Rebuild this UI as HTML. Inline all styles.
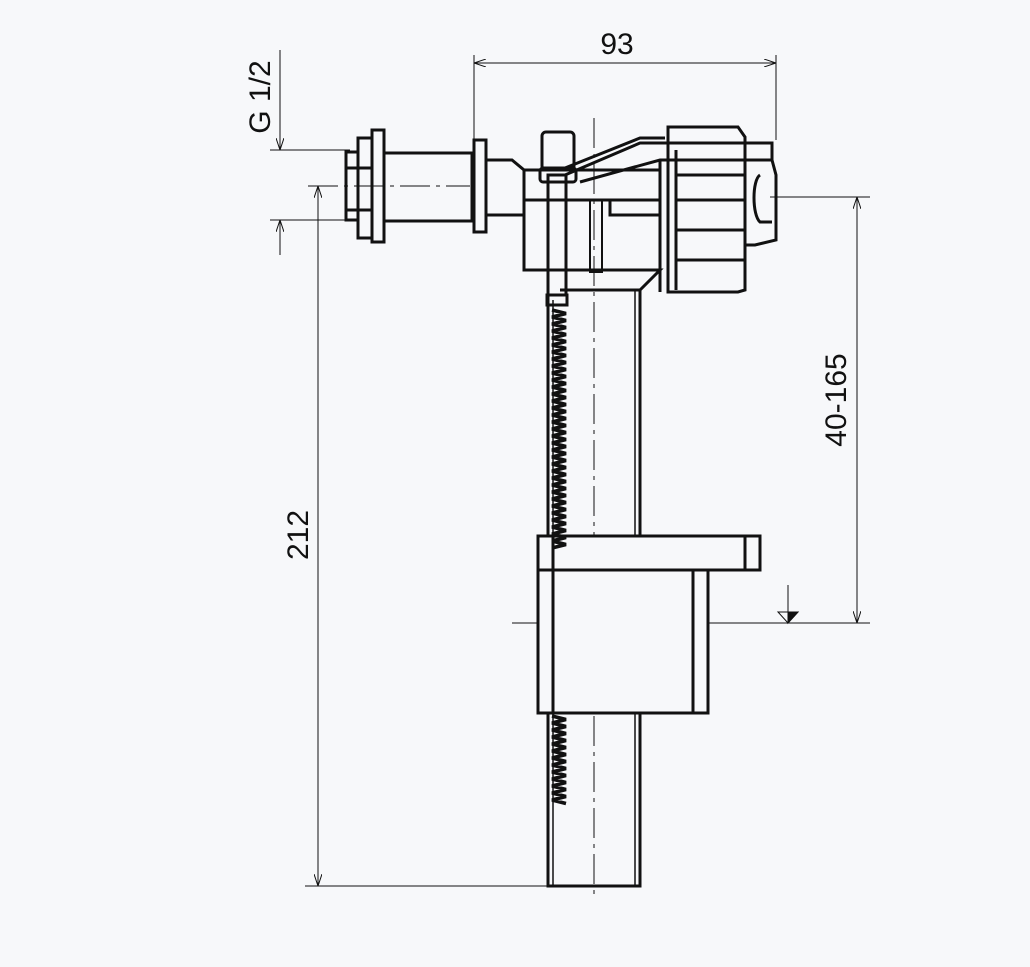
<!DOCTYPE html>
<html><head><style>html,body{margin:0;padding:0;background:#f7f8fa}svg{display:block}</style></head>
<body>
<svg width="1030" height="967" viewBox="0 0 1030 967" xmlns="http://www.w3.org/2000/svg">
<rect width="1030" height="967" fill="#f7f8fa"/>
<defs>
<marker id="a" markerWidth="12" markerHeight="8" refX="12" refY="4" orient="auto" markerUnits="userSpaceOnUse"><path d="M0,0 L12,4 L0,8" fill="none" stroke="#111" stroke-width="1"/></marker>
</defs>
<g stroke="#111" stroke-width="1" fill="none">
<line x1="474" y1="55" x2="474" y2="140"/><line x1="776" y1="55" x2="776" y2="140"/>
<line x1="474" y1="63" x2="776" y2="63" marker-end="url(#a)"/><line x1="776" y1="63" x2="474" y2="63" marker-end="url(#a)"/>
<line x1="270" y1="150" x2="350" y2="150"/><line x1="270" y1="220" x2="350" y2="220"/>
<line x1="280" y1="50" x2="280" y2="150" marker-end="url(#a)"/><line x1="280" y1="255" x2="280" y2="220" marker-end="url(#a)"/>
<line x1="308" y1="186" x2="470" y2="186" stroke-dasharray="30 6 4 6"/>
<line x1="305" y1="886" x2="548" y2="886"/>
<line x1="318" y1="886" x2="318" y2="186" marker-end="url(#a)"/><line x1="318" y1="186" x2="318" y2="886" marker-end="url(#a)"/>
<line x1="770" y1="197" x2="870" y2="197"/><line x1="512" y1="623" x2="870" y2="623"/>
<line x1="857" y1="197" x2="857" y2="623" marker-end="url(#a)"/><line x1="857" y1="623" x2="857" y2="197" marker-end="url(#a)"/>
<line x1="788" y1="585" x2="788" y2="623"/>
<path d="M778,612 L798,612 L788,623 Z" fill="none"/><path d="M788,612 L798,612 L788,623 Z" fill="#111"/>
<line x1="594" y1="118" x2="594" y2="900" stroke-dasharray="30 6 4 6"/>
</g>
<g stroke="#111" stroke-width="3" fill="none">
<path d="M548,290 L548,886 L640,886 L640,290"/>
<line x1="553" y1="300" x2="553" y2="886" stroke-width="1.5"/><line x1="635" y1="290" x2="635" y2="886" stroke-width="1.5"/>
<rect x="538" y="536" width="222" height="34" fill="#f7f8fa"/>
<line x1="745" y1="536" x2="745" y2="570"/>
<rect x="538" y="570" width="170" height="143" fill="#f7f8fa"/>
<line x1="553" y1="536" x2="553" y2="713"/><line x1="693" y1="570" x2="693" y2="713"/>
<rect x="346" y="152" width="12" height="68"/>
<rect x="358" y="138" width="14" height="100"/>
<rect x="372" y="130" width="12" height="112"/>
<rect x="384" y="153" width="88" height="68"/>
<line x1="346" y1="168" x2="372" y2="168"/><line x1="346" y1="210" x2="372" y2="210"/>
<rect x="474" y="140" width="12" height="92"/>
<path d="M486,160 L512,160 L524,170 L524,215 L486,215"/>
<path d="M524,170 L660,170 M524,195 L524,270 L548,270 L548,290 M524,200 L660,200 M660,215 L610,215 L610,200 M524,270 L660,270 L640,290 L560,290"/>
<rect x="590" y="200" width="12" height="72" stroke-width="2"/>
<rect x="548" y="175" width="18" height="120"/>
<rect x="542" y="132" width="32" height="38" rx="4"/>
<rect x="540" y="168" width="36" height="14" rx="3"/>
<rect x="547" y="295" width="20" height="10"/>
<path d="M565,175 L640,143 L772,143 L772,160 L660,160 L580,182"/>
<path d="M565,168 L640,138 L665,138"/>
<path d="M668,127 L738,127 L745,137 L745,290 L738,292 L668,292 Z"/>
<line x1="660" y1="160" x2="660" y2="292"/>
<line x1="676" y1="150" x2="676" y2="290"/>
<line x1="676" y1="200" x2="745" y2="200"/><line x1="676" y1="230" x2="745" y2="230"/><line x1="676" y1="260" x2="745" y2="260"/><line x1="676" y1="175" x2="745" y2="175"/>
<path d="M750,160 L772,160 L776,175 L776,240 L755,245 L745,245 M760,175 C752,180 752,215 760,222 L772,222"/>
</g>
<path d="M552,310 l14,3.5 l-14,3.5 l14,3.5 l-14,3.5 l14,3.5 l-14,3.5 l14,3.5 l-14,3.5 l14,3.5 l-14,3.5 l14,3.5 l-14,3.5 l14,3.5 l-14,3.5 l14,3.5 l-14,3.5 l14,3.5 l-14,3.5 l14,3.5 l-14,3.5 l14,3.5 l-14,3.5 l14,3.5 l-14,3.5 l14,3.5 l-14,3.5 l14,3.5 l-14,3.5 l14,3.5 l-14,3.5 l14,3.5 l-14,3.5 l14,3.5 l-14,3.5 l14,3.5 l-14,3.5 l14,3.5 l-14,3.5 l14,3.5 l-14,3.5 l14,3.5 l-14,3.5 l14,3.5 l-14,3.5 l14,3.5 l-14,3.5 l14,3.5 l-14,3.5 l14,3.5 l-14,3.5 l14,3.5 l-14,3.5 l14,3.5 l-14,3.5 l14,3.5 l-14,3.5 l14,3.5 l-14,3.5 l14,3.5 l-14,3.5 l14,3.5 l-14,3.5 l14,3.5 l-14,3.5 l14,3.5 l-14,3.5 l14,3.5 l-14,3.5 M552,716 l14,3.5 l-14,3.5 l14,3.5 l-14,3.5 l14,3.5 l-14,3.5 l14,3.5 l-14,3.5 l14,3.5 l-14,3.5 l14,3.5 l-14,3.5 l14,3.5 l-14,3.5 l14,3.5 l-14,3.5 l14,3.5 l-14,3.5 l14,3.5 l-14,3.5 l14,3.5 l-14,3.5 l14,3.5 l-14,3.5 l14,3.5" stroke="#111" stroke-width="3.5" fill="none"/>
<g font-family="Liberation Sans, sans-serif" font-size="30" fill="#111">
<text x="617" y="54" text-anchor="middle">93</text>
<text transform="translate(270,97) rotate(-90)" text-anchor="middle">G 1/2</text>
<text transform="translate(308,535) rotate(-90)" text-anchor="middle">212</text>
<text transform="translate(846,400) rotate(-90)" text-anchor="middle">40-165</text>
</g>
</svg>
</body></html>
